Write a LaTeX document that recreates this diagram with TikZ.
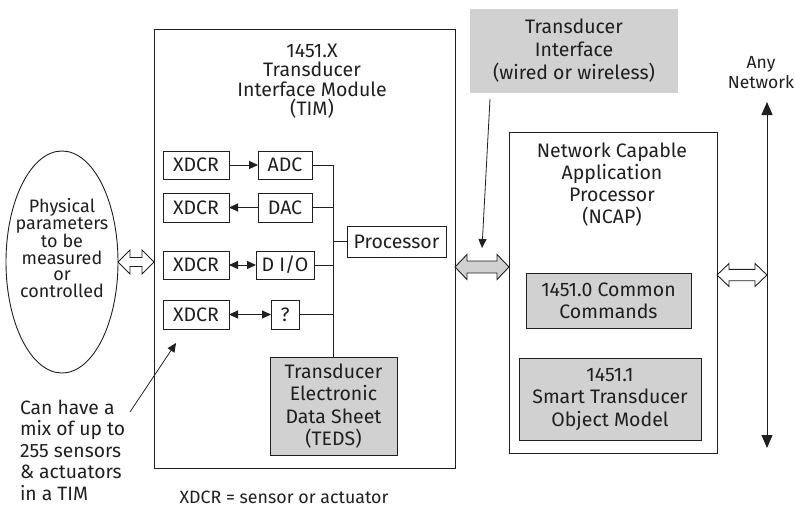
\documentclass[tikz,border=0pt]{standalone}
\usepackage{fontspec}
\setmainfont{Fira Sans}
\usetikzlibrary{shapes.geometric,arrows.meta,calc}

\definecolor{ink}{gray}{0.12}
\definecolor{panel}{gray}{0.82}

% Outlined block arrow with a head at both ends (horizontal).
% #1 style, #2 left tip, #3 right tip, #4 half head height, #5 half shaft height
\newcommand\blockarrow[5]{%
  \draw[#1] let \p1=#2, \p2=#3 in
    (\x1,\y1) -- (\x1+12pt,\y1+#4pt) -- (\x1+12pt,\y1+#5pt) --
    (\x2-12pt,\y1+#5pt) -- (\x2-12pt,\y1+#4pt) -- (\x2,\y1) --
    (\x2-12pt,\y1-#4pt) -- (\x2-12pt,\y1-#5pt) -- (\x1+12pt,\y1-#5pt) --
    (\x1+12pt,\y1-#4pt) -- cycle;}

\newcommand\txt[2]{\fontsize{#1}{#2}\selectfont}

\tikzset{
  every node/.style={inner sep=0pt, outer sep=0pt, text=ink, font=\txt{19.5}{21}},
  box/.style={draw=ink, line width=1pt, rectangle, align=center},
  greybox/.style={box, fill=panel},
  wire/.style={draw=ink, line width=1pt},
  tipwire/.style={wire, -{Triangle[length=9pt,width=8pt]}},
  twowire/.style={wire, {Triangle[length=9pt,width=8pt]}-{Triangle[length=9pt,width=8pt]}},
  hollow/.style={draw=ink, line width=0.9pt, fill=white, line join=miter},
  greyarrow/.style={draw=ink, line width=0.9pt, fill=panel, line join=miter},
}

\begin{document}
\begin{tikzpicture}[x=1pt,y=-1pt]
\useasboundingbox (0,0) rectangle (795,511);

% ---- Transducer Interface Module ----
\node[box, minimum width=301pt, minimum height=438pt] (tim) at (304.5,249) {};
\node[align=center, font=\txt{19.5}{19.5}] (timtitle) at (312,81)
  {1451.X\\Transducer\\Interface Module\\(TIM)};

\node[box, minimum width=66pt, minimum height=28pt] (x1) at (196,165) {XDCR};
\node[box, minimum width=54pt, minimum height=28pt] (adc) at (285,165) {ADC};
\node[box, minimum width=66pt, minimum height=29pt] (x2) at (196,207.5) {XDCR};
\node[box, minimum width=54pt, minimum height=29pt] (dac) at (285,207.5) {DAC};
\node[box, minimum width=66pt, minimum height=28pt] (x3) at (196,265) {XDCR};
\node[box, minimum width=58pt, minimum height=28pt] (dio) at (285,265) {D I/O};
\node[box, minimum width=66pt, minimum height=29pt] (x4) at (196,314.5) {XDCR};
\node[box, minimum width=28pt, minimum height=29pt] (unk) at (285,314.5) {?};
\node[box, minimum width=99pt, minimum height=31pt] (proc) at (396.5,241.5) {Processor};
\node[greybox, minimum width=127pt, minimum height=98pt, font=\txt{19.5}{22.5}]
  (teds) at (333.5,406) {Transducer\\Electronic\\Data Sheet\\(TEDS)};

% converters and transducers
\draw[tipwire] (x1) -- (adc);
\draw[tipwire] (dac) -- (x2);
\draw[twowire] (x3) -- (dio);
\draw[twowire] (x4) -- (unk);

% internal bus
\draw[wire] (adc.east) -| (teds.north);
\draw[wire] (dac.east) -- (dac.east -| teds.north);
\draw[wire] (dio.east) -- (dio.east -| teds.north);
\draw[wire] (unk.east) -- (unk.east -| teds.north);
\draw[wire] (proc.west) -- (proc.west -| teds.north);

% ---- measured quantities ----
\node[draw=ink, line width=0.9pt, ellipse, minimum width=112pt, minimum height=222pt]
  (phys) at (62,262) {};
\node[align=center, font=\txt{18}{16.5}] (physlabel) at (62,248)
  {Physical\\parameters\\to be\\measured\\or\\controlled};
\blockarrow{hollow}{(phys.east)}{(tim.west |- phys.east)}{12}{4.5}

\node[anchor=west, align=left, font=\txt{19.3}{21.5}] (mix) at (20,450)
  {Can have a\\mix of up to\\255 sensors\\\& actuators\\in a TIM};
\coordinate (mixfrom) at (130,412);
\draw[tipwire, line width=0.8pt] (mixfrom) -- ($(x4.south west)+(13,14)$);

\node[font=\txt{17.8}{20}] (legend) at (284,497) {XDCR = sensor or actuator};

% ---- transducer interface ----
\node[fill=panel, minimum width=208pt, minimum height=84pt, align=center,
      font=\txt{19.5}{23}] (ti) at (574,51)
  {Transducer\\Interface\\(wired or wireless)};

% ---- NCAP ----
\node[box, minimum width=208pt, minimum height=321pt] (ncap) at (613,292.5) {};
\node[align=center, font=\txt{19.5}{22}] (ncaptitle) at (612,185)
  {Network Capable\\Application\\Processor\\(NCAP)};
\node[greybox, minimum width=165pt, minimum height=55pt, font=\txt{19.5}{22}]
  (cmd) at (608.5,300.5) {1451.0 Common\\Commands};
\node[greybox, minimum width=182pt, minimum height=82pt, font=\txt{19.5}{22.5}]
  (stom) at (610,399) {1451.1\\Smart Transducer\\Object Model};

\coordinate (tilevel) at (0,267);
\blockarrow{greyarrow}{(tim.east |- tilevel)}{(ncap.west |- tilevel)}{12.5}{6}

\coordinate (tifrom) at ($(ti.south west)+(20,6)$);
\coordinate (tito) at (482,248);
\draw[tipwire, line width=0.8pt] (tifrom) -- (tito);

% ---- network ----
\node[align=center, font=\txt{17.5}{20}] (anynet) at (761,73) {Any\\Network};
\coordinate (nettop) at (767,102);
\coordinate (netbot) at (767,448);
\draw[wire, {Triangle[length=13pt,width=11pt]}-{Triangle[length=13pt,width=11pt]}]
  (nettop) -- (netbot);
\coordinate (netlevel) at (0,275);
\blockarrow{hollow}{(ncap.east |- netlevel)}{(nettop |- netlevel)}{11.5}{5.7}
\end{tikzpicture}
\end{document}
